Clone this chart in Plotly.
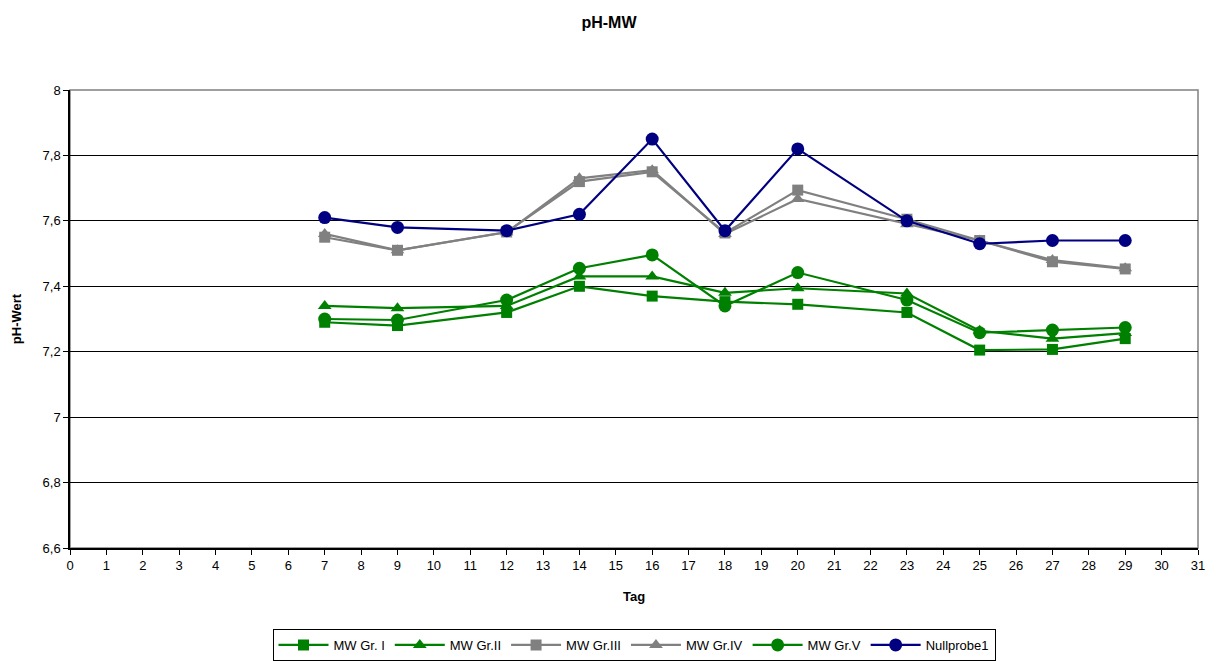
import plotly.graph_objects as go

# Messtage (Tag) und pH-Werte je Gruppe
tage = [7, 9, 12, 14, 16, 18, 20, 23, 25, 27, 29]
gr_i = [7.29, 7.28, 7.32, 7.40, 7.37, 7.353, 7.345, 7.32, 7.205, 7.207, 7.24]
gr_ii = [7.34, 7.333, 7.34, 7.43, 7.43, 7.38, 7.394, 7.378, 7.264, 7.24, 7.257]
gr_iii = [7.55, 7.51, 7.566, 7.72, 7.75, 7.563, 7.694, 7.605, 7.54, 7.475, 7.453]
gr_iv = [7.56, 7.51, 7.565, 7.73, 7.755, 7.56, 7.667, 7.59, 7.54, 7.48, 7.455]
gr_v = [7.30, 7.297, 7.358, 7.455, 7.496, 7.34, 7.442, 7.358, 7.258, 7.266, 7.274]
nullprobe = [7.61, 7.58, 7.57, 7.62, 7.85, 7.57, 7.82, 7.60, 7.53, 7.54, 7.54]

GREEN = "#008000"
GREY = "#808080"
NAVY = "#000080"

serien = [
    ("MW Gr. I", gr_i, GREEN, "square", 11),
    ("MW Gr.II", gr_ii, GREEN, "triangle-up", 12),
    ("MW Gr.III", gr_iii, GREY, "square", 11),
    ("MW Gr.IV", gr_iv, GREY, "triangle-up", 12),
    ("MW Gr.V", gr_v, GREEN, "circle", 13),
    ("Nullprobe1", nullprobe, NAVY, "circle", 13),
]

fig = go.Figure()
for name, werte, farbe, symbol, groesse in serien:
    fig.add_trace(go.Scatter(
        x=tage, y=werte, name=name, mode="lines+markers",
        line=dict(color=farbe, width=2.2),
        marker=dict(symbol=symbol, size=groesse, color=farbe),
    ))

# grauer Rahmen um die Zeichenfläche
fig.add_shape(type="rect", xref="paper", yref="paper", x0=0, y0=0, x1=1, y1=1,
              line=dict(color="#808080", width=1.5), layer="below")

fig.update_layout(
    width=1218, height=661,
    margin=dict(l=70, r=20, t=90, b=113),
    paper_bgcolor="white", plot_bgcolor="white",
    separators=",.",
    font=dict(family="Liberation Sans, Arial, sans-serif", size=13, color="black"),
    title=dict(text="<b>pH-MW</b>", x=0.5, xanchor="center", y=1 - 22 / 661,
               yanchor="middle", font=dict(size=16)),
    showlegend=True,
    legend=dict(orientation="h", x=0.5, xanchor="center", yref="container",
                y=0, yanchor="bottom", bordercolor="black", borderwidth=1,
                font=dict(size=13), itemwidth=50, tracegroupgap=0),
    xaxis=dict(range=[0, 31], dtick=1, tick0=0, ticks="outside", ticklen=5,
               tickcolor="black", showline=True, linecolor="black", linewidth=1.5,
               showgrid=False, zeroline=False,
               title=dict(text="<b>Tag</b>", font=dict(size=13), standoff=20)),
    yaxis=dict(range=[6.6, 8], dtick=0.2, tick0=6.6, ticks="outside", ticklen=5,
               tickcolor="black", showline=True, linecolor="black", linewidth=1.5,
               showgrid=True, gridcolor="black", gridwidth=1, zeroline=False,
               title=dict(text="<b>pH-Wert</b>", font=dict(size=13), standoff=18)),
)

fig.write_html("out.html")
